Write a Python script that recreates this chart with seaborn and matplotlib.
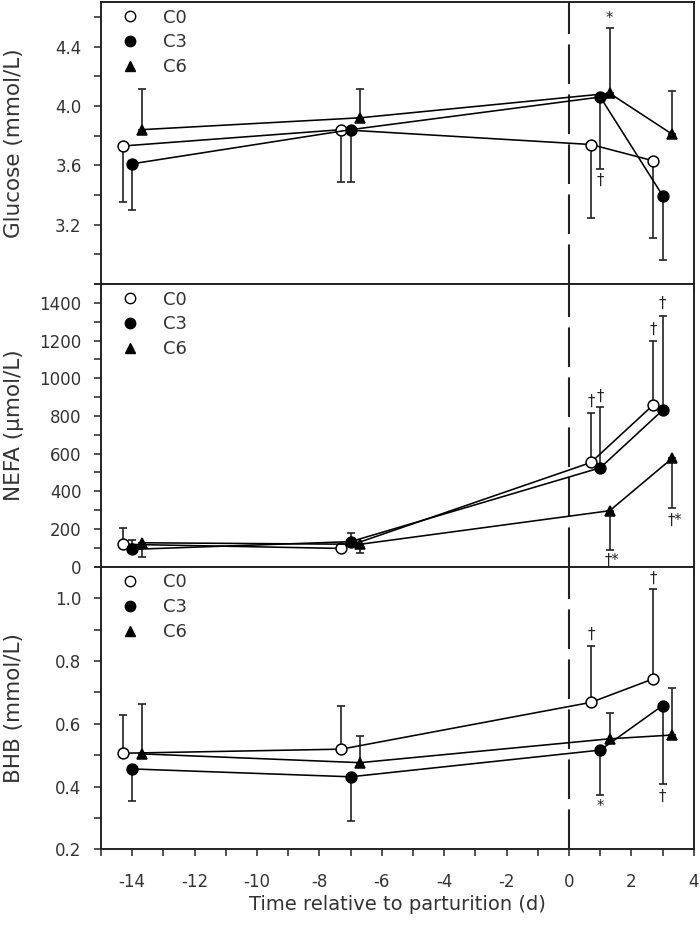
import matplotlib
matplotlib.use("Agg")
import matplotlib.pyplot as plt
from matplotlib.lines import Line2D
from matplotlib.ticker import MultipleLocator
import seaborn as sns

# days (groups are offset a little so the bars don't overlap)
day_c0 = [-14.3, -7.3, 0.7, 2.7]
day_c3 = [-14.0, -7.0, 1.0, 3.0]
day_c6 = [-13.7, -6.7, 1.3, 3.3]
groups = ["C0", "C3", "C6"]

# glucose (mmol/L), SE, direction of the one-sided bar (+1 up, -1 down)
glu_c0 = [3.73, 3.84, 3.74, 3.63]
glu_c3 = [3.61, 3.84, 4.06, 3.395]
glu_c6 = [3.84, 3.92, 4.085, 3.81]
glu_se_c0 = [0.375, 0.35, 0.495, 0.52]
glu_se_c3 = [0.31, 0.355, 0.485, 0.435]
glu_se_c6 = [0.275, 0.195, 0.44, 0.29]
glu_dir = [-1, -1, 1]

# NEFA (umol/L)
nefa_c0 = [119, 97, 553, 859]
nefa_c3 = [92, 133, 525, 831]
nefa_c6 = [127, 119, 297, 575]
nefa_se_c0 = [85, 8, 260, 338]
nefa_se_c3 = [49, 47, 322, 500]
nefa_se_c6 = [77, 45, 208, 262]
nefa_dir = [1, 1, -1]

# BHB (mmol/L)
bhb_c0 = [0.506, 0.519, 0.668, 0.743]
bhb_c3 = [0.456, 0.431, 0.516, 0.658]
bhb_c6 = [0.504, 0.476, 0.552, 0.564]
bhb_se_c0 = [0.122, 0.138, 0.181, 0.286]
bhb_se_c3 = [0.102, 0.14, 0.143, 0.25]
bhb_se_c6 = [0.158, 0.086, 0.081, 0.149]
bhb_dir = [1, -1, 1]

# significance marks (x, y, text)
glu_marks = [(1.3, 4.59, "*"), (1.0, 3.50, "†")]
nefa_marks = [(0.7, 880, "†"), (1.0, 905, "†"), (1.3, 36, "†*"),
              (2.7, 1258, "†"), (3.0, 1398, "†"), (3.3, 245, "†*")]
bhb_marks = [(0.7, 0.886, "†"), (1.0, 0.336, "*"), (2.7, 1.064, "†"), (3.0, 0.370, "†")]

sns.set_theme(style="ticks")
plt.rcParams["font.family"] = ["DejaVu Sans"]
plt.rcParams["axes.unicode_minus"] = False

marker_style = {
    "C0": dict(marker="o", markerfacecolor="white", markeredgecolor="black"),
    "C3": dict(marker="o", markerfacecolor="black", markeredgecolor="black"),
    "C6": dict(marker="^", markerfacecolor="black", markeredgecolor="black"),
}
days = [day_c0, day_c3, day_c6]

fig = plt.figure(figsize=(7, 9.26), dpi=100)
left, width = 0.1443, 0.847
ax_glu = fig.add_axes([left, 0.6933, width, 0.3045])
ax_nefa = fig.add_axes([left, 0.388, width, 0.3053])
ax_bhb = fig.add_axes([left, 0.0828, width, 0.3052])

panels = [
    (ax_glu, [glu_c0, glu_c3, glu_c6], [glu_se_c0, glu_se_c3, glu_se_c6], glu_dir,
     glu_marks, "Glucose (mmol/L)", (2.8, 4.7), [3.2, 3.6, 4.0, 4.4], 0.2, "{:.1f}"),
    (ax_nefa, [nefa_c0, nefa_c3, nefa_c6], [nefa_se_c0, nefa_se_c3, nefa_se_c6], nefa_dir,
     nefa_marks, "NEFA (µmol/L)", (0, 1500), list(range(0, 1401, 200)), 100, "{:.0f}"),
    (ax_bhb, [bhb_c0, bhb_c3, bhb_c6], [bhb_se_c0, bhb_se_c3, bhb_se_c6], bhb_dir,
     bhb_marks, "BHB (mmol/L)", (0.2, 1.1), [0.2, 0.4, 0.6, 0.8, 1.0], 0.1, "{:.1f}"),
]

for ax, means, ses, dirs, marks, ylab, ylim, yticks, yminor, fmt in panels:
    ax.axvline(0, color="#222222", lw=1.5, ls=(0, (19, 5)), zorder=1)
    for g, x, m, se, d in zip(groups, days, means, ses, dirs):
        lo = [s if d < 0 else 0 for s in se]
        hi = [s if d > 0 else 0 for s in se]
        ax.errorbar(x, m, yerr=[lo, hi], fmt="none", ecolor="#222222",
                    elinewidth=1.2, capsize=3, capthick=1.2, zorder=2)
        sns.lineplot(x=x, y=m, ax=ax, color="black", lw=1.15, markersize=7.8,
                     markeredgewidth=1.1, zorder=3, errorbar=None, **marker_style[g])
    for mx, my, txt in marks:
        ax.text(mx + (0.08 if len(txt) > 1 else 0), my, txt, ha="center", va="center",
                fontsize=10.5, color="#222222")

    ax.set_xlim(-15, 4)
    ax.set_ylim(*ylim)
    ax.set_yticks(yticks)
    ax.set_yticklabels([fmt.format(v) for v in yticks])
    ax.yaxis.set_minor_locator(MultipleLocator(yminor))
    ax.set_xticks(range(-14, 5, 2))
    ax.xaxis.set_minor_locator(MultipleLocator(1))
    ax.tick_params(axis="both", which="both", direction="out", length=5, width=1.1,
                   color="#222222", labelsize=12, labelcolor="#333333")
    ax.tick_params(axis="y", pad=9)
    ax.tick_params(axis="x", pad=12)
    for sp in ax.spines.values():
        sp.set_visible(True)
        sp.set_linewidth(1.4)
        sp.set_color("#222222")
    ax.set_ylabel(ylab, fontsize=15.5, color="#333333")
    ax.yaxis.set_label_coords(-0.13, 0.5)
    ax.set_xlabel("")

    handles = [Line2D([], [], linestyle="none", markersize=7.5, markeredgewidth=1.0,
                      **marker_style[g]) for g in groups]
    ax.legend(handles, groups, loc="upper left", bbox_to_anchor=(0.033, 0.977),
              frameon=False, fontsize=13, handlelength=1.0, handletextpad=1.35,
              labelspacing=0.38, borderpad=0, borderaxespad=0,
              labelcolor="#333333")

ax_glu.tick_params(axis="x", labelbottom=False)
ax_nefa.tick_params(axis="x", labelbottom=False)
ax_bhb.set_xlabel("Time relative to parturition (d)", fontsize=14, color="#333333", labelpad=3)

fig.savefig("out.png", dpi=100)
